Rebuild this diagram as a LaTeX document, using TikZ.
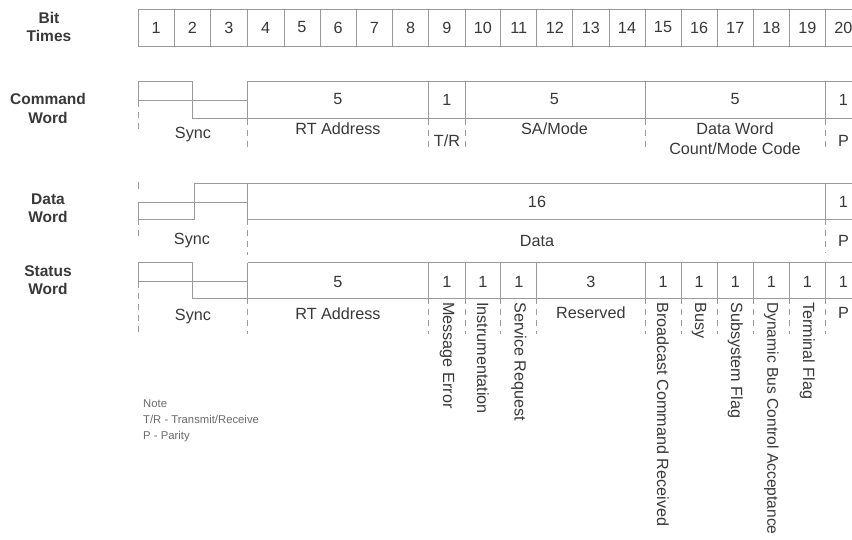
\documentclass[tikz,border=0pt]{standalone}
\usepackage{fontspec}
\setmainfont{Liberation Sans}
\definecolor{ln}{HTML}{9A9A9A}
\definecolor{tx}{HTML}{383838}
\definecolor{nt}{HTML}{6A6A6A}
\begin{document}
\begin{tikzpicture}[x=1pt,y=-1pt,
  ln/.style={draw=ln, line width=0.9pt},
  dl/.style={draw=ln, line width=0.9pt, dash pattern=on 6pt off 5pt},
  lbl/.style={font=\fontsize{15.5}{18.5}\selectfont\bfseries, text=tx, align=center, inner sep=0pt},
  fld/.style={font=\fontsize{16.2}{20}\selectfont, text=tx, align=center, inner sep=0pt},
  vt/.style={fld, rotate=-90, anchor=west},
  notetxt/.style={font=\fontsize{11.3}{16}\selectfont, text=nt, align=left, anchor=north west, inner sep=0pt}]
\useasboundingbox (0,0) rectangle (852,540);
\begin{scope}
\clip (0,0) rectangle (852,540);
% ---------- Bit times ----------
\node[lbl] (lbit) at (49,27) {Bit\\Times};
\draw[ln] (138,9.5) rectangle (870,46);
\foreach \n/\l/\r in {1/138/174.3, 2/174.3/210.5, 3/210.5/247.5, 4/247.5/284, 5/284/320, 6/320/356.3, 7/356.3/392.7, 8/392.7/428.8, 9/428.8/465, 10/465/500.8, 11/500.8/536.8, 12/536.8/572.8, 13/572.8/609, 14/609/645, 15/645/681, 16/681/717.2, 17/717.2/753.3, 18/753.3/789.3, 19/789.3/825.3, 20/825.3/861.5}{
  \draw[ln] (\r,9.5) -- (\r,46);
  \node[fld] (bt\n) at ({(\l+\r)/2},27.5) {\n};
}
% ---------- Command word ----------
\node[lbl] (lcmd) at (48,108.5) {Command\\Word};
\draw[ln] (138,100.7) -- (138,81.3) -- (192,81.3) -- (192,118.7) -- (247.5,118.7);
\draw[ln] (138,100.7) -- (247.5,100.7);
\draw[ln] (247.5,81.3) -- (870,81.3);
\draw[ln] (247.5,118.7) -- (870,118.7);
\foreach \x in {247.5,428.8,465,645,825.3}{
  \draw[ln] (\x,81.3) -- (\x,118.7);
  \draw[dl] (\x,118.7) -- (\x,151);
}
\draw[dl] (138,100.7) -- (138,131);
\node[fld] (c5a) at (338,99.5) {5};
\node[fld] (c1a) at (446.9,99.5) {1};
\node[fld] (c5b) at (554.5,99.5) {5};
\node[fld] (c5c) at (735,99.5) {5};
\node[fld] (c1b) at (843.4,99.5) {1};
\node[fld] (csync) at (193,135) {Sync};
\node[fld] (crt) at (338,129) {RT Address};
\node[fld] (ctr) at (446.9,141) {T/R};
\node[fld] (csa) at (554.5,129) {SA/Mode};
\node[fld] (cdw) at (735,139) {Data Word\\Count/Mode Code};
\node[fld] (cp) at (843.4,141) {P};
% ---------- Data word ----------
\node[lbl] (ldata) at (48,208) {Data\\Word};
\draw[ln] (138,202) -- (138,219.3) -- (194.5,219.3) -- (194.5,183.3) -- (870,183.3);
\draw[ln] (138,202) -- (247.5,202);
\draw[ln] (247.5,183.3) -- (247.5,219.3) -- (870,219.3);
\draw[ln] (825.3,183.3) -- (825.3,219.3);
\draw[ln] (138,182) -- (138,189);
\draw[dl] (138,219.3) -- (138,240);
\draw[dl] (247.5,219.3) -- (247.5,255);
\draw[dl] (825.3,219.3) -- (825.3,253);
\node[fld] (d16) at (537,202) {16};
\node[fld] (d1) at (843.4,202) {1};
\node[fld] (dsync) at (192,241) {Sync};
\node[fld] (ddata) at (537,241) {Data};
\node[fld] (dp) at (843.4,241) {P};
% ---------- Status word ----------
\node[lbl] (lstat) at (48,280) {Status\\Word};
\draw[ln] (138,281.7) -- (138,262.7) -- (192,262.7) -- (192,298) -- (247.5,298);
\draw[ln] (138,281.7) -- (247.5,281.7);
\draw[ln] (247.5,262.7) -- (870,262.7);
\draw[ln] (247.5,298) -- (870,298);
\foreach \x in {247.5,428.8,465,500.8,536.8,645,681,717.2,753.3,789.3,825.3}{
  \draw[ln] (\x,262.7) -- (\x,298);
  \draw[dl] (\x,298) -- (\x,334);
}
\draw[dl] (138,281.7) -- (138,335);
\node[fld] (s5) at (338,282) {5};
\node[fld] (s9) at (446.9,282) {1};
\node[fld] (s10) at (482.9,282) {1};
\node[fld] (s11) at (518.8,282) {1};
\node[fld] (s3) at (590.9,282) {3};
\node[fld] (s15) at (663,282) {1};
\node[fld] (s16) at (699.1,282) {1};
\node[fld] (s17) at (735.3,282) {1};
\node[fld] (s18) at (771.3,282) {1};
\node[fld] (s19) at (807.3,282) {1};
\node[fld] (s20) at (843.4,282) {1};
\node[fld] (ssync) at (193,317) {Sync};
\node[fld] (srt) at (338,313.5) {RT Address};
\node[fld] (sres) at (590.9,313) {Reserved};
\node[fld] (sp) at (843.4,313) {P};
\node[vt] (vme) at (446.9,302) {Message Error};
\node[vt] (vin) at (482.9,302) {Instrumentation};
\node[vt] (vsr) at (518.8,302) {Service Request};
\node[vt] (vbc) at (663,302) {Broadcast Command Received};
\node[vt] (vbu) at (699.1,302) {Busy};
\node[vt] (vsf) at (735.3,302) {Subsystem Flag};
\node[vt, font=\fontsize{15.6}{20}\selectfont] (vdb) at (771.3,302) {Dynamic Bus Control Acceptance};
\node[vt] (vtf) at (807.3,302) {Terminal Flag};
% ---------- Note ----------
\node[notetxt] (note) at (143,400) {Note\\T/R - Transmit/Receive\\P - Parity};
\end{scope}
\end{tikzpicture}
\end{document}
